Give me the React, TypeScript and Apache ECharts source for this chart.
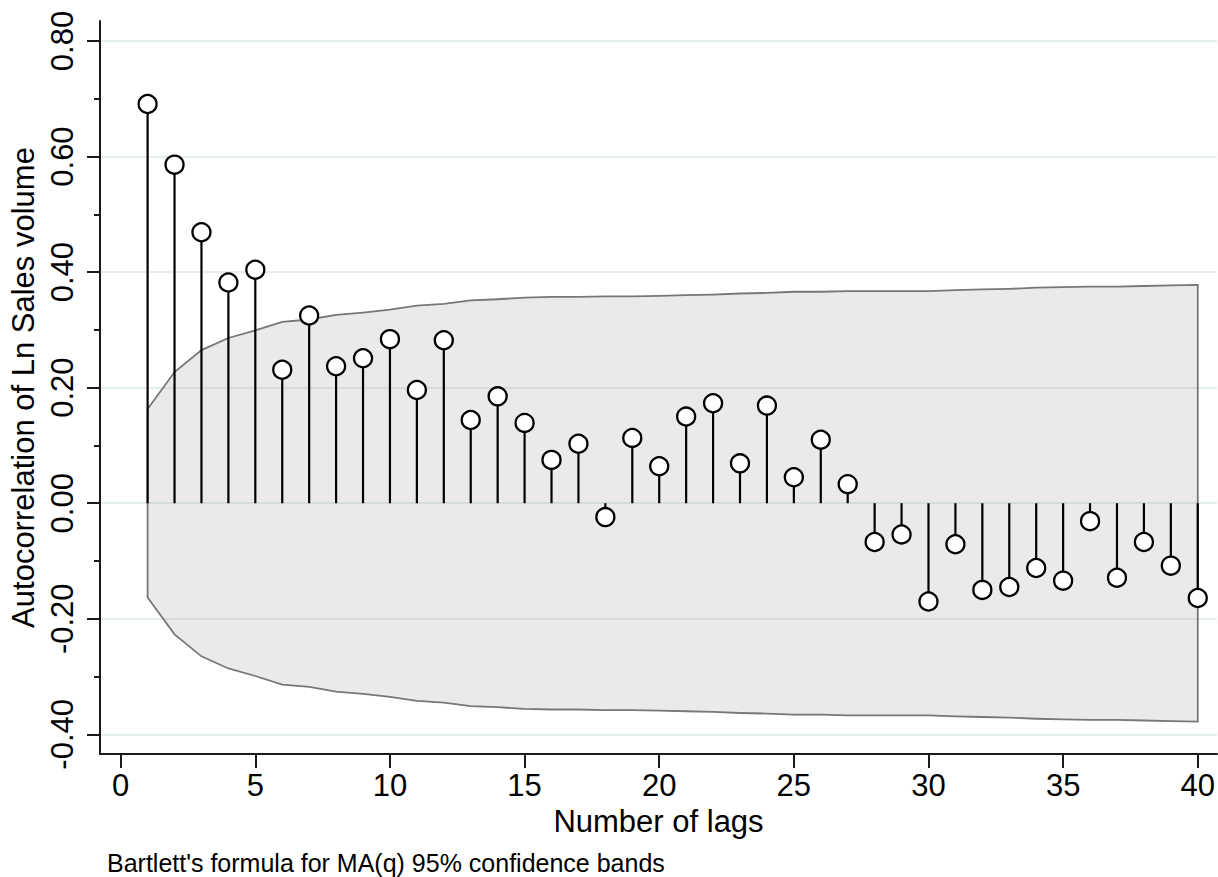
import React, { useEffect, useRef } from "react";
import * as echarts from "echarts";

const lags = [1, 2, 3, 4, 5, 6, 7, 8, 9, 10, 11, 12, 13, 14, 15, 16, 17, 18, 19, 20, 21, 22, 23, 24, 25, 26, 27, 28, 29, 30, 31, 32, 33, 34, 35, 36, 37, 38, 39, 40];

const acf = [
  0.691, 0.586, 0.469, 0.382, 0.404, 0.231, 0.325, 0.237, 0.251, 0.284,
  0.196, 0.282, 0.144, 0.185, 0.139, 0.075, 0.103, -0.024, 0.113, 0.064,
  0.15, 0.173, 0.069, 0.169, 0.045, 0.11, 0.033, -0.067, -0.054, -0.17,
  -0.071, -0.15, -0.145, -0.112, -0.134, -0.031, -0.129, -0.067, -0.108, -0.164,
];

const bandUpper = [
  0.163, 0.227, 0.265, 0.286, 0.299, 0.314, 0.318, 0.326, 0.33, 0.335,
  0.342, 0.345, 0.351, 0.353, 0.356, 0.357, 0.357, 0.358, 0.358, 0.359,
  0.36, 0.361, 0.363, 0.364, 0.366, 0.366, 0.367, 0.367, 0.367, 0.367,
  0.369, 0.37, 0.371, 0.373, 0.374, 0.375, 0.375, 0.376, 0.377, 0.378,
];

const bandLower = [
  -0.163, -0.227, -0.265, -0.286, -0.299, -0.314, -0.318, -0.326, -0.33, -0.335,
  -0.342, -0.345, -0.351, -0.353, -0.356, -0.357, -0.357, -0.358, -0.358, -0.359,
  -0.36, -0.361, -0.363, -0.364, -0.366, -0.366, -0.367, -0.367, -0.367, -0.367,
  -0.369, -0.37, -0.371, -0.373, -0.374, -0.375, -0.375, -0.376, -0.377, -0.378,
];

const xTicks = [0, 5, 10, 15, 20, 25, 30, 35, 40];
const yTicks = [-0.4, -0.2, 0, 0.2, 0.4, 0.6, 0.8];
const yMinorTicks = [-0.3, -0.1, 0.1, 0.3, 0.5, 0.7];

const xTitle = "Number of lags";
const yTitle = "Autocorrelation of Ln Sales volume";
const note = "Bartlett's formula for MA(q) 95% confidence bands";

export default function App() {
  const ref = useRef<HTMLDivElement>(null);

  useEffect(() => {
    if (!ref.current) return;
    const chart = echarts.init(ref.current, null, { renderer: "svg" });
    const font = "'Liberation Sans', Arial, Helvetica, sans-serif";
    const bandData = lags.map((l, i) => [l, bandUpper[i], bandLower[i]]);
    const stemData = lags.map((l, i) => [l, acf[i]]);
    const xMin = -0.768;
    const xMax = 40.716;
    const yMin = -0.434;
    const yMax = 0.8346;

    chart.setOption({
      animation: false,
      backgroundColor: "#ffffff",
      textStyle: { fontFamily: font },
      grid: { left: 100, right: 0, top: 21, bottom: 123, containLabel: false },
      xAxis: {
        type: "value",
        min: xMin,
        max: xMax,
        name: xTitle,
        nameLocation: "middle",
        nameGap: 50,
        nameTextStyle: { fontSize: 31, color: "#000", fontFamily: font },
        axisLine: { show: true, onZero: false, lineStyle: { color: "#1a1a1a", width: 2 } },
        axisTick: { show: true, length: 14, customValues: xTicks, lineStyle: { color: "#1a1a1a", width: 2 } },
        axisLabel: {
          show: true,
          customValues: xTicks,
          fontSize: 31,
          color: "#000",
          margin: 16,
          fontFamily: font,
          formatter: (v: number) => String(v),
        },
        splitLine: { show: false },
      },
      yAxis: [
        {
          type: "value",
          min: yMin,
          max: yMax,
          position: "left",
          name: yTitle,
          nameLocation: "middle",
          nameRotate: 90,
          nameGap: 58,
          nameTextStyle: { fontSize: 31, color: "#000", fontFamily: font },
          axisLine: { show: true, onZero: false, lineStyle: { color: "#1a1a1a", width: 2 } },
          axisTick: { show: true, length: 13, customValues: yTicks, lineStyle: { color: "#1a1a1a", width: 2 } },
          axisLabel: {
            show: true,
            customValues: yTicks,
            rotate: 90,
            fontSize: 31,
            color: "#000",
            margin: 22,
            fontFamily: font,
            formatter: (v: number) => v.toFixed(2),
          },
          splitLine: { show: true, lineStyle: { color: "#e4edef", width: 2 } },
        },
        {
          type: "value",
          min: yMin,
          max: yMax,
          position: "left",
          offset: 0,
          axisLine: { show: false, onZero: false },
          axisTick: { show: true, length: 6, customValues: yMinorTicks, lineStyle: { color: "#1a1a1a", width: 2 } },
          axisLabel: { show: false },
          splitLine: { show: false },
        },
      ],
      graphic: [
        {
          type: "text",
          left: 107,
          top: 850,
          style: { text: note, fontSize: 25, fontFamily: font, fill: "#000" },
        },
      ],
      series: [
        {
          type: "custom",
          name: "band",
          data: bandData,
          encode: { x: 0, y: [1, 2] },
          z: 1,
          silent: true,
          renderItem: (params: any, api: any) => {
            if (params.dataIndex !== 0) return { type: "group", children: [] };
            const pts: number[][] = [];
            for (let i = 0; i < bandData.length; i++) {
              pts.push(api.coord([bandData[i][0], bandData[i][1]]));
            }
            for (let i = bandData.length - 1; i >= 0; i--) {
              pts.push(api.coord([bandData[i][0], bandData[i][2]]));
            }
            return {
              type: "polygon",
              shape: { points: pts },
              style: { fill: "rgba(150,150,150,0.2)", stroke: "#777777", lineWidth: 1.8 },
            };
          },
        },
        {
          type: "custom",
          name: "stems",
          data: stemData,
          encode: { x: 0, y: 1 },
          z: 2,
          silent: true,
          renderItem: (params: any, api: any) => {
            const x = api.value(0);
            const y = api.value(1);
            const p0 = api.coord([x, 0]);
            const p1 = api.coord([x, y]);
            return {
              type: "line",
              shape: { x1: p0[0], y1: p0[1], x2: p1[0], y2: p1[1] },
              style: { stroke: "#000", lineWidth: 2.2 },
            };
          },
        },
        {
          type: "scatter",
          name: "acf",
          data: stemData,
          z: 3,
          symbol: "circle",
          symbolSize: 18,
          itemStyle: { color: "#ffffff", borderColor: "#000", borderWidth: 2.3, opacity: 1 },
        },
      ],
    });

    return () => chart.dispose();
  }, []);

  return (
    <div
      ref={ref}
      style={{ position: "absolute", left: 0, top: 0, width: 1218, height: 877 }}
    />
  );
}
